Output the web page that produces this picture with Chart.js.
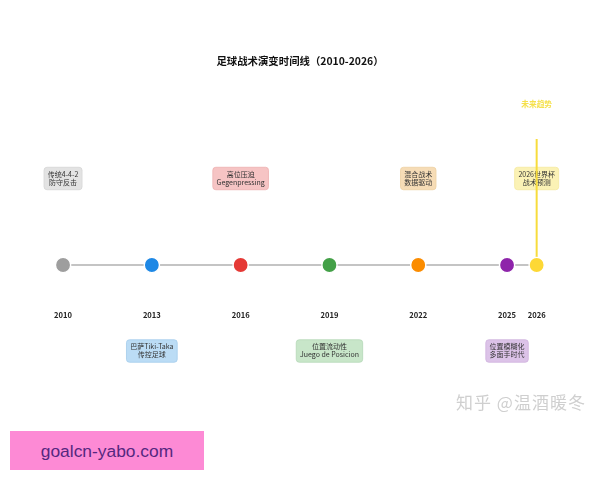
<!DOCTYPE html>
<html><head><meta charset="utf-8">
<script src="https://cdn.jsdelivr.net/npm/chart.js@4"></script>
<style>
html,body{margin:0;padding:0;background:#fff;width:600px;height:480px;overflow:hidden}
#wrap{position:relative;width:600px;height:480px}
canvas{position:absolute;left:0;top:0}
.wm{position:absolute;left:456px;top:390px;font:17px "Noto Sans CJK SC";letter-spacing:1px;color:#cfcfcf;white-space:nowrap;line-height:24px}
.ad{position:absolute;left:10px;top:431px;width:194px;height:39px;background:#fd8ad5;color:#55277f;font:17.4px/40px "Liberation Sans";text-align:center}
</style></head><body>
<div id="wrap"><canvas id="c" width="600" height="480"></canvas>
<div class="wm">知乎 @温酒暖冬</div>
<div class="ad">goalcn-yabo.com</div></div>
<script>
const years=[2010,2013,2016,2019,2022,2025,2026];
const baseline=[0,0,0,0,0,0,0];
const pointColors=['#9e9e9e','#1e88e5','#e53935','#43a047','#fb8c00','#8e24aa','#fdd835'];
const labelLevels=[86.5,-86,86.5,-86,86.5,-86,86.5];
const labelLines=[['传统4-4-2','防守反击'],['巴萨Tiki-Taka','传控足球'],['高位压迫','Gegenpressing'],['位置流动性','Juego de Posicion'],['混合战术','数据驱动'],['位置模糊化','多面手时代'],['2026世界杯','战术预测']];
const boxFills=['#e3e3e3','#bbdcf5','#f6c4c4','#c8e6c9','#f6dcb6','#dcc3e8','#fbf2b5'];
const boxEdges=['#d6d6d6','#a5cdec','#eeb0b0','#b5d8b7','#eed0a2','#cfb2de','#f5eaa0'];
const trendYears=[2026,2026];
const trendValues=[0,126];
const trendLabel='未来趋势';
const trendLabelLevel=161;
const titleText='足球战术演变时间线（2010-2026）';

const FONT='"Noto Sans CJK SC","Noto Sans"';
const annotate={
  id:'annotate',
  beforeDatasetsDraw(chart){
    const {ctx,scales:{x,y}}=chart;
    ctx.save();
    ctx.textAlign='center';ctx.textBaseline='middle';
    years.forEach((yr,i)=>{
      const cx=x.getPixelForValue(yr),cy=y.getPixelForValue(labelLevels[i]);
      ctx.font='7px '+FONT;
      const w=Math.max(...labelLines[i].map(t=>ctx.measureText(t).width))+7.5;
      const h=22.5;
      ctx.beginPath();
      ctx.roundRect(cx-w/2,cy-h/2,w,h,3);
      ctx.fillStyle=boxFills[i];ctx.fill();
      ctx.strokeStyle=boxEdges[i];ctx.lineWidth=0.8;ctx.stroke();
      ctx.fillStyle='#333';
      ctx.fillText(labelLines[i][0],cx,cy-4.2);
      ctx.fillText(labelLines[i][1],cx,cy+3.8);
    });
    ctx.font='bold 7.7px '+FONT;
    ctx.fillStyle='#f5e04a';
    ctx.fillText(trendLabel,x.getPixelForValue(trendYears[0]),y.getPixelForValue(trendLabelLevel));
    ctx.restore();
  }
};
new Chart(document.getElementById('c'),{
  type:'scatter',
  plugins:[annotate],
  data:{datasets:[
    {data:years.map((v,i)=>({x:v,y:baseline[i]})),showLine:true,borderColor:'#b0b0b0',borderWidth:1.6,
     pointRadius:7.6,pointHoverRadius:7.6,pointBackgroundColor:pointColors,pointBorderColor:'#ffffff',pointBorderWidth:1.4},
    {data:trendYears.map((v,i)=>({x:v,y:trendValues[i]})),showLine:true,borderColor:'#f7dc3c',borderWidth:2,pointRadius:0}
  ]},
  options:{
    responsive:false,animation:false,devicePixelRatio:1,
    layout:{padding:0,autoPadding:false},
    plugins:{legend:{display:false},tooltip:{enabled:false},
      title:{display:true,text:titleText,color:'#111',font:{family:FONT,size:10.4,weight:'bold',lineHeight:1.2},padding:{top:54.5,bottom:3.02}}},
    scales:{
      x:{type:'linear',min:2007.87,max:2028.14,position:{y:0},
        border:{display:false},grid:{display:false},
        afterBuildTicks(s){s.ticks=years.map(v=>({value:v}));},
        ticks:{autoSkip:false,maxRotation:0,padding:38,color:'#222',font:{family:FONT,size:7.6,weight:'bold'},callback:v=>String(v)}},
      y:{type:'linear',min:-215,max:195,display:false}
    }
  }
});
</script></body></html>
